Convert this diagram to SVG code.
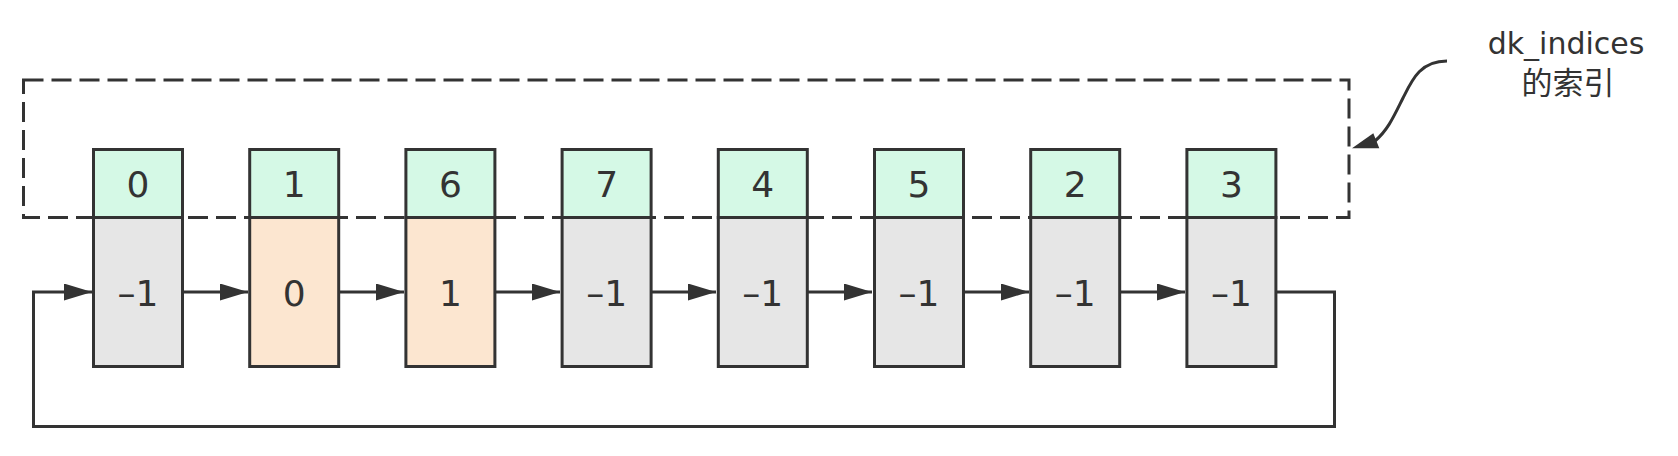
<svg xmlns="http://www.w3.org/2000/svg" width="1678" height="456" viewBox="0 0 1678 456">
<style>
.ln{fill:none;stroke:#333333;stroke-width:3}
.top{fill:#D5F9E6;stroke:#333333;stroke-width:3}
.gray{fill:#E6E6E6;stroke:#333333;stroke-width:3}
.org{fill:#FCE6D0;stroke:#333333;stroke-width:3}
.num{font-family:"DejaVu Sans",sans-serif;font-size:36px;fill:#333333;text-anchor:middle}
.lbl{font-family:"DejaVu Sans","Noto Sans CJK SC",sans-serif;font-size:30px;fill:#333333;text-anchor:middle}
.cjk{font-family:"DejaVu Sans","Noto Sans CJK SC",sans-serif;font-size:31px;fill:#333333;text-anchor:middle}
</style>
<defs>
<marker id="ah" viewBox="0 0 28 17" refX="28" refY="8.5" markerWidth="28" markerHeight="17" markerUnits="userSpaceOnUse" orient="auto">
<path d="M0,0 L28,8.5 L0,17 z" fill="#333333"/>
</marker>
</defs>
<rect id="dk-box" x="23.5" y="80" width="1325.5" height="137.5" fill="none" stroke="#333333" stroke-width="3" stroke-dasharray="20 8"/>
<g id="connectors">
<line class="ln" x1="183" y1="292" x2="248" y2="292" marker-end="url(#ah)"/>
<line class="ln" x1="339" y1="292" x2="404" y2="292" marker-end="url(#ah)"/>
<line class="ln" x1="495" y1="292" x2="560" y2="292" marker-end="url(#ah)"/>
<line class="ln" x1="651" y1="292" x2="716" y2="292" marker-end="url(#ah)"/>
<line class="ln" x1="807" y1="292" x2="872" y2="292" marker-end="url(#ah)"/>
<line class="ln" x1="964" y1="292" x2="1029" y2="292" marker-end="url(#ah)"/>
<line class="ln" x1="1120" y1="292" x2="1185" y2="292" marker-end="url(#ah)"/>
<path class="ln" d="M1277,292 H1334.5 V426.5 H33.5 V292 H92" marker-end="url(#ah)"/>
<path class="ln" d="M1447,61 C1420,61 1412,80 1403,98 C1394,116 1388,130 1375,141"/>
<polygon points="1352,148.3 1373.3,133.3 1379.3,148.3" fill="#333333"/>
</g>
<g id="n0"><rect class="top" x="93.5" y="149.5" width="89" height="68"/><rect class="gray" x="93.5" y="217.5" width="89" height="149"/><text class="num" x="138" y="196.5">0</text><text class="num" x="138" y="305.5">–1</text></g>
<g id="n1"><rect class="top" x="249.7" y="149.5" width="89" height="68"/><rect class="org" x="249.7" y="217.5" width="89" height="149"/><text class="num" x="294.2" y="196.5">1</text><text class="num" x="294.2" y="305.5">0</text></g>
<g id="n2"><rect class="top" x="405.9" y="149.5" width="89" height="68"/><rect class="org" x="405.9" y="217.5" width="89" height="149"/><text class="num" x="450.4" y="196.5">6</text><text class="num" x="450.4" y="305.5">1</text></g>
<g id="n3"><rect class="top" x="562.1" y="149.5" width="89" height="68"/><rect class="gray" x="562.1" y="217.5" width="89" height="149"/><text class="num" x="606.6" y="196.5">7</text><text class="num" x="606.6" y="305.5">–1</text></g>
<g id="n4"><rect class="top" x="718.3" y="149.5" width="89" height="68"/><rect class="gray" x="718.3" y="217.5" width="89" height="149"/><text class="num" x="762.8" y="196.5">4</text><text class="num" x="762.8" y="305.5">–1</text></g>
<g id="n5"><rect class="top" x="874.5" y="149.5" width="89" height="68"/><rect class="gray" x="874.5" y="217.5" width="89" height="149"/><text class="num" x="919" y="196.5">5</text><text class="num" x="919" y="305.5">–1</text></g>
<g id="n6"><rect class="top" x="1030.7" y="149.5" width="89" height="68"/><rect class="gray" x="1030.7" y="217.5" width="89" height="149"/><text class="num" x="1075.2" y="196.5">2</text><text class="num" x="1075.2" y="305.5">–1</text></g>
<g id="n7"><rect class="top" x="1186.9" y="149.5" width="89" height="68"/><rect class="gray" x="1186.9" y="217.5" width="89" height="149"/><text class="num" x="1231.4" y="196.5">3</text><text class="num" x="1231.4" y="305.5">–1</text></g>
<g id="label"><text class="lbl" x="1566" y="54">dk_indices</text><text class="cjk" x="1568" y="94">的索引</text></g>
</svg>
